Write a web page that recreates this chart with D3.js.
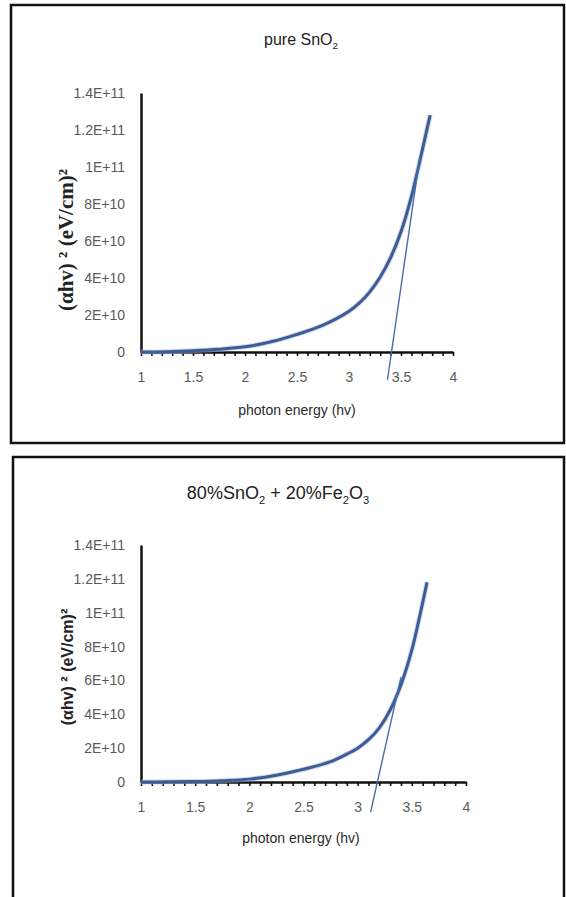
<!DOCTYPE html>
<html>
  <head>
    <meta charset="UTF-8" />
    <title>Tauc plots SnO2</title>
    <style>
      body { margin: 0; background: #fff; }
    </style>
    <script src="https://d3js.org/d3.v7.min.js"></script>
  </head>
  <body>
    <svg id="viz" width="566" height="897" font-family="Liberation Sans, Arial, sans-serif"></svg>
    <script>
      // tick values + labels (Excel style)
      var xTicks = [1, 1.5, 2, 2.5, 3, 3.5, 4];
      var minorTicks = [1, 1.1, 1.2, 1.3, 1.4, 1.5, 1.6, 1.7, 1.8, 1.9, 2, 2.1, 2.2, 2.3, 2.4, 2.5, 2.6, 2.7, 2.8, 2.9, 3, 3.1, 3.2, 3.3, 3.4, 3.5, 3.6, 3.7, 3.8, 3.9, 4];
      var yTicks = [0, 2e10, 4e10, 6e10, 8e10, 1e11, 1.2e11, 1.4e11];
      var yTickLabels = ["0", "2E+10", "4E+10", "6E+10", "8E+10", "1E+11", "1.2E+11", "1.4E+11"];

      // pure SnO2
      var pureEnergy = [1.0, 1.25, 1.5, 1.75, 2.0, 2.25, 2.5, 2.75, 3.0, 3.1, 3.2, 3.3, 3.4, 3.5, 3.6, 3.7, 3.78];
      var pureValue = [0, 0.02e10, 0.07e10, 0.15e10, 0.28e10, 0.55e10, 0.95e10, 1.45e10, 2.2e10, 2.65e10, 3.25e10, 4.05e10, 5.1e10, 6.5e10, 8.4e10, 10.8e10, 12.8e10];
      var pureTangentEnergy = [3.37, 3.68];
      var pureTangentValue = [-1.5e10, 1.05e11];

      // 80% SnO2 + 20% Fe2O3
      var mixEnergy = [1.0, 1.25, 1.5, 1.75, 2.0, 2.25, 2.5, 2.75, 2.9, 3.0, 3.1, 3.2, 3.3, 3.4, 3.5, 3.6, 3.64];
      var mixValue = [0, 0.01e10, 0.03e10, 0.08e10, 0.17e10, 0.4e10, 0.75e10, 1.2e10, 1.65e10, 2.0e10, 2.5e10, 3.2e10, 4.25e10, 5.75e10, 7.8e10, 10.6e10, 11.8e10];
      var mixTangentEnergy = [3.12, 3.40];
      var mixTangentValue = [-1.77e10, 6.2e10];

      var svg = d3.select("#viz");
      var curveColor = "#3d5c95";

      // frames
      svg.append("rect").attr("x", 11).attr("y", 5).attr("width", 553).attr("height", 438)
        .attr("fill", "none").attr("stroke", "#111").attr("stroke-width", 2.5);
      svg.append("rect").attr("x", 13).attr("y", 457).attr("width", 551).attr("height", 460)
        .attr("fill", "none").attr("stroke", "#111").attr("stroke-width", 2.5);

      function drawPanel(p) {
        var x = d3.scaleLinear().domain([1, 4]).range([p.left, p.right]);
        var y = d3.scaleLinear().domain([0, 1.4e11]).range([p.bottom, p.top]);
        var g = svg.append("g");

        // title with subscripts
        var t = g.append("text").attr("x", p.titleX).attr("y", p.titleY)
          .attr("text-anchor", "middle").attr("font-size", p.titleSize).attr("fill", "#222");
        var shift = p.titleSize * 0.25, down = false;
        p.title.forEach(function (part) {
          var ts = t.append("tspan").text(part.s);
          if (part.sub) {
            ts.attr("font-size", p.titleSize * 0.62).attr("dy", shift);
            down = true;
          } else if (down) {
            ts.attr("dy", -shift);
            down = false;
          }
        });

        // y axis
        var yAxis = d3.axisLeft(y).tickValues(yTicks).tickSize(0).tickPadding(16)
          .tickFormat(function (d, i) { return yTickLabels[i]; });
        var ya = g.append("g").attr("transform", "translate(" + p.left + ",0)").call(yAxis);
        ya.attr("font-family", null).attr("font-size", null);
        ya.select(".domain").attr("stroke", "#111").attr("stroke-width", 2.5);
        ya.selectAll("text").attr("font-size", 14).attr("fill", "#5a5a5a");

        // x axis: labels + minor ticks every 0.1
        var xAxis = d3.axisBottom(x).tickValues(xTicks).tickSize(0).tickPadding(p.xPad)
          .tickFormat(d3.format("~g"));
        var xa = g.append("g").attr("transform", "translate(0," + p.bottom + ")").call(xAxis);
        xa.attr("font-family", null).attr("font-size", null);
        xa.select(".domain").attr("stroke", "#111").attr("stroke-width", 2.5);
        xa.selectAll("text").attr("font-size", 14).attr("fill", "#5a5a5a");
        var minor = d3.axisBottom(x).tickValues(minorTicks).tickSize(4);
        var ma = g.append("g").attr("transform", "translate(0," + p.bottom + ")").call(minor);
        ma.select(".domain").remove();
        ma.selectAll("text").remove();
        ma.selectAll("line").attr("stroke", "#111").attr("stroke-width", 1.6);

        // axis titles
        g.append("text").attr("x", p.xTitleX).attr("y", p.xTitleY).attr("text-anchor", "middle")
          .attr("font-size", 14).attr("fill", "#2a2a2a").text("photon energy (hv)");
        g.append("text")
          .attr("transform", "translate(" + p.yTitleX + "," + p.yTitleY + ") rotate(-90)")
          .attr("text-anchor", "middle").attr("font-size", p.yTitleSize)
          .attr("font-weight", "bold").style("font-family", p.yTitleFont)
          .attr("fill", "#222")
          .text("(\u03b1hv) \u00b2 (eV/cm)\u00b2");

        // data curve
        var pts = p.energy.map(function (e, i) { return [e, p.value[i]]; });
        var line = d3.line().x(function (d) { return x(d[0]); }).y(function (d) { return y(d[1]); })
          .curve(d3.curveCatmullRom);
        g.append("path").datum(pts).attr("d", line).attr("fill", "none")
          .attr("stroke", "#9fb6d8").attr("stroke-width", 5).attr("stroke-opacity", 0.5);
        g.append("path").datum(pts).attr("d", line).attr("fill", "none")
          .attr("stroke", curveColor).attr("stroke-width", 3);

        // extrapolation line
        var tp = p.tanE.map(function (e, i) { return [e, p.tanV[i]]; });
        g.append("path").datum(tp).attr("d", d3.line().x(function (d) { return x(d[0]); }).y(function (d) { return y(d[1]); }))
          .attr("fill", "none").attr("stroke", "#4a6ca6").attr("stroke-width", 1.4);
      }

      drawPanel({
        left: 141, right: 453, top: 93, bottom: 352,
        title: [{ s: "pure SnO" }, { s: "2", sub: true }], titleX: 301, titleY: 45, titleSize: 16,
        xPad: 20, xTitleX: 297, xTitleY: 415,
        yTitleX: 73, yTitleY: 240, yTitleSize: 21, yTitleFont: "'Liberation Serif', 'Times New Roman', serif",
        energy: pureEnergy, value: pureValue, tanE: pureTangentEnergy, tanV: pureTangentValue
      });

      drawPanel({
        left: 141, right: 466, top: 545, bottom: 782,
        title: [{ s: "80%SnO" }, { s: "2", sub: true }, { s: " + 20%Fe" }, { s: "2", sub: true }, { s: "O" }, { s: "3", sub: true }],
        titleX: 278, titleY: 499, titleSize: 18,
        xPad: 20, xTitleX: 301, xTitleY: 843,
        yTitleX: 73, yTitleY: 667, yTitleSize: 16, yTitleFont: "'Liberation Sans', Arial, sans-serif",
        energy: mixEnergy, value: mixValue, tanE: mixTangentEnergy, tanV: mixTangentValue
      });
    </script>
  </body>
</html>
